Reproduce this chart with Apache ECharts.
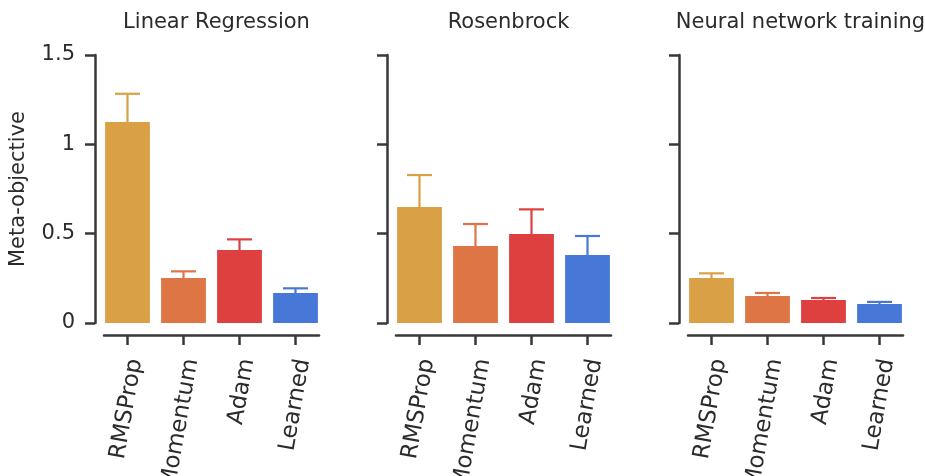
<!DOCTYPE html>
<html>
<head>
<meta charset="utf-8">
<script src="https://cdn.jsdelivr.net/npm/echarts@6/dist/echarts.min.js"></script>
<style>
  html, body { margin: 0; padding: 0; background: #ffffff; }
  #chart { width: 925px; height: 476px; }
</style>
</head>
<body>
<div id="chart"></div>
<script>
// ---------- data ----------
const categories = ['RMSProp', 'Momentum', 'Adam', 'Learned'];
const panelTitles = ['Linear Regression', 'Rosenbrock', 'Neural network training'];
const linRegMean = [1.125, 0.252, 0.408, 0.168];
const linRegErr  = [0.158, 0.037, 0.060, 0.026];
const rosenMean  = [0.649, 0.431, 0.498, 0.380];
const rosenErr   = [0.179, 0.123, 0.138, 0.107];
const nnMean     = [0.252, 0.151, 0.129, 0.106];
const nnErr      = [0.026, 0.017, 0.011, 0.012];
const yTickValues = [0, 0.5, 1, 1.5];
const yAxisName = 'Meta-objective';

// ---------- style ----------
const barColors = ['#D9A046', '#DE7545', '#DE4040', '#4878D7'];
const FONT = 'DejaVu Sans';
const INK = '#2b2b2b';
const AXIS = '#383838';

const panelMeans = [linRegMean, rosenMean, nnMean];
const panelErrs = [linRegErr, rosenErr, nnErr];
const panelLefts = [99.5, 391.5, 683.5];
const panelWidth = 224;
const plotTop = 55;
const plotHeight = 268;
const spineTrim = 4.5;     // trimmed x spine inset
const labelShift = 8;      // horizontal centring of rotated labels

const chart = echarts.init(document.getElementById('chart'), null, { renderer: 'canvas' });

const grids = [], xAxes = [], yAxes = [], series = [], titles = [];
const nCat = categories.length;
const catIdx = categories.map((c, k) => k);

panelTitles.forEach((t, i) => {
  const left = panelLefts[i];
  const g = { top: plotTop, height: plotHeight, containLabel: false, outerBoundsMode: 'none' };
  grids.push(Object.assign({ left: left, width: panelWidth }, g));
  grids.push(Object.assign({ left: left + spineTrim, width: panelWidth - 2 * spineTrim }, g));
  grids.push(Object.assign({ left: left + spineTrim + labelShift, width: panelWidth - 2 * spineTrim }, g));

  titles.push({
    text: t,
    left: left + panelWidth / 2,
    top: 7,
    textAlign: 'center',
    textStyle: { fontFamily: FONT, fontSize: 21, fontWeight: 'normal', color: INK }
  });

  const gBar = 3 * i, gAx = 3 * i + 1, gLab = 3 * i + 2;

  xAxes.push({ type: 'category', gridIndex: gBar, data: categories, show: false, boundaryGap: true });

  xAxes.push({
    type: 'value', gridIndex: gAx,
    min: -0.42, max: (nCat - 1) + 0.42,
    position: 'bottom', offset: 12,
    splitLine: { show: false },
    axisLine: { show: true, onZero: false, lineStyle: { color: AXIS, width: 2.5 } },
    axisTick: { show: true, length: 10, customValues: catIdx, lineStyle: { color: AXIS, width: 2.5 } },
    axisLabel: { show: false }
  });

  xAxes.push({
    type: 'value', gridIndex: gLab,
    min: -0.42, max: (nCat - 1) + 0.42,
    position: 'bottom', offset: 12,
    splitLine: { show: false },
    axisLine: { show: false, onZero: false },
    axisTick: { show: false },
    axisLabel: {
      show: true,
      customValues: catIdx,
      formatter: v => categories[Math.round(v)],
      rotate: 80,
      margin: 24,
      fontFamily: FONT, fontSize: 23, color: INK
    }
  });

  yAxes.push({
    type: 'value', gridIndex: gBar,
    min: yTickValues[0], max: yTickValues[yTickValues.length - 1], interval: yTickValues[1] - yTickValues[0],
    offset: 4.5,
    splitLine: { show: false },
    axisLine: { show: true, onZero: false, lineStyle: { color: AXIS, width: 2.5 } },
    axisTick: { show: true, length: 10, lineStyle: { color: AXIS, width: 2.5 } },
    axisLabel: { show: i === 0, margin: 20, fontFamily: FONT, fontSize: 21, color: INK },
    name: i === 0 ? yAxisName : '',
    nameLocation: 'middle',
    nameRotate: 90,
    nameGap: 66,
    nameTextStyle: { fontFamily: FONT, fontSize: 21, color: INK }
  });
  yAxes.push({ type: 'value', gridIndex: gAx, show: false, min: 0, max: 1 });
  yAxes.push({ type: 'value', gridIndex: gLab, show: false, min: 0, max: 1 });

  series.push({
    type: 'bar',
    xAxisIndex: gBar, yAxisIndex: gBar,
    barWidth: '80%',
    data: panelMeans[i].map((v, k) => ({ value: v, itemStyle: { color: barColors[k] } })),
    z: 2
  });

  series.push({
    type: 'custom',
    xAxisIndex: gBar, yAxisIndex: gBar,
    data: panelMeans[i].map((v, k) => [k, v, v + panelErrs[i][k]]),
    encode: { x: 0, y: [1, 2] },
    z: 3,
    renderItem: (params, api) => {
      const idx = api.value(0);
      const p0 = api.coord([idx, api.value(1)]);
      const p1 = api.coord([idx, api.value(2)]);
      const col = barColors[idx];
      const half = 12.5;
      return {
        type: 'group',
        children: [
          { type: 'line', shape: { x1: p0[0], y1: p0[1], x2: p1[0], y2: p1[1] }, style: { stroke: col, lineWidth: 2.2 } },
          { type: 'line', shape: { x1: p1[0] - half, y1: p1[1], x2: p1[0] + half, y2: p1[1] }, style: { stroke: col, lineWidth: 2.2 } }
        ]
      };
    }
  });
});

chart.setOption({
  animation: false,
  backgroundColor: '#ffffff',
  title: titles,
  grid: grids,
  xAxis: xAxes,
  yAxis: yAxes,
  series: series
});
</script>
</body>
</html>
